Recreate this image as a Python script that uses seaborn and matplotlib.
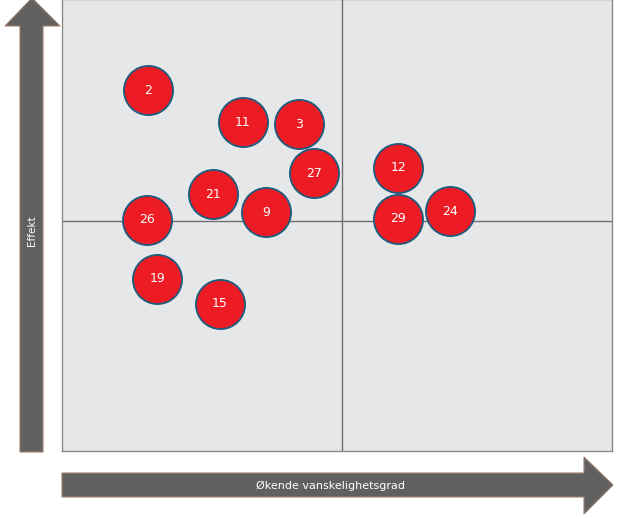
import matplotlib
matplotlib.use("Agg")
import matplotlib.pyplot as plt
import seaborn as sns
import pandas as pd
from matplotlib.patches import Polygon

# Data (difficulty on x, effect on y, 0-100 scale)
labels = ["2", "11", "3", "27", "21", "9", "26", "19", "15", "12", "29", "24"]
difficulty = [15.6, 32.9, 43.1, 45.8, 27.5, 37.1, 15.5, 17.3, 28.7, 61.1, 61.1, 70.5]
effect = [79.8, 72.7, 72.3, 61.4, 56.8, 52.8, 51.2, 38.1, 32.6, 62.7, 51.4, 53.0]

x_label = "Økende vanskelighetsgrad"
y_label = "Effekt"

df = pd.DataFrame({"id": labels, "x": difficulty, "y": effect})

sns.set_style("white")
plt.rcParams["font.family"] = ["DejaVu Sans"]

fig = plt.figure(figsize=(6.2, 5.19), dpi=100)

# overlay axes in pixel coordinates for the two big arrows
bg = fig.add_axes([0, 0, 1, 1])
bg.set_xlim(0, 620)
bg.set_ylim(519, 0)
bg.axis("off")

arrow_col = "#606060"
edge_col = "#9c7f6c"
v_arrow = [(20, 452), (20, 26), (5, 26), (32, -2), (60, 26), (43, 26), (43, 452)]
h_arrow = [(62, 473), (584, 473), (584, 457), (613, 485), (584, 514), (584, 497), (62, 497)]
bg.add_patch(Polygon(v_arrow, closed=True, fc=arrow_col, ec=edge_col, lw=0.8))
bg.add_patch(Polygon(h_arrow, closed=True, fc=arrow_col, ec=edge_col, lw=0.8))
bg.text(32, 231, y_label, color="white", fontsize=7.5, rotation=90, ha="center", va="center")
bg.text(330, 486, x_label, color="white", fontsize=8, ha="center", va="center")

# the quadrant plot
ax = fig.add_axes([62 / 620, (519 - 451) / 519, 550 / 620, 452 / 519])
ax.set_facecolor("#e6e7e9")
sns.scatterplot(data=df, x="x", y="y", s=1250, color="#ed1c24",
                edgecolor="#1b5c7e", linewidth=1.3, ax=ax, zorder=3)
for _, r in df.iterrows():
    ax.text(r["x"], r["y"], r["id"], color="white", fontsize=9,
            ha="center", va="center", zorder=4)

ax.axvline(50.9, color="#6e6e6e", lw=1, zorder=1)
ax.axhline(50.8, color="#6e6e6e", lw=1, zorder=1)
ax.set_xlim(0, 100)
ax.set_ylim(0, 100)
ax.set_xticks([])
ax.set_yticks([])
ax.set_xlabel("")
ax.set_ylabel("")
for s in ax.spines.values():
    s.set_color("#8a8a8a")
    s.set_linewidth(1)

fig.savefig("out.png", dpi=100)
